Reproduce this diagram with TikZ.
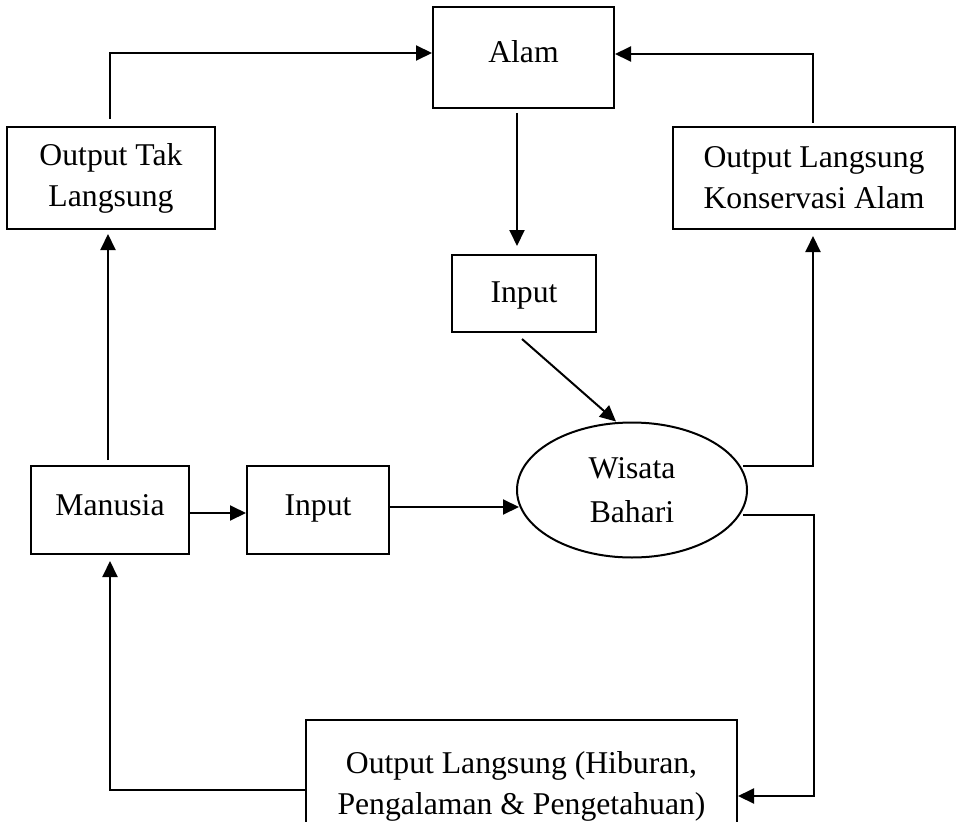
\documentclass[tikz,border=0pt]{standalone}
\usepackage{fontspec}
\setmainfont{Liberation Serif}
\usetikzlibrary{arrows.meta,shapes.geometric}
\begin{document}
\begin{tikzpicture}[x=1pt,y=-1pt,
  box/.style={draw,line width=2pt,inner sep=0pt,align=center,
    font={\fontsize{31.7pt}{41pt}\selectfont}},
  oval/.style={draw,ellipse,line width=2pt,inner sep=0pt,align=center,
    font={\fontsize{31.7pt}{44pt}\selectfont}},
  arr/.style={line width=2pt,-{Triangle[length=16pt,width=15pt]}}]
\useasboundingbox (0,0) rectangle (960,821);
\clip (0,0) rectangle (960,821);
\fill[white] (0,0) rectangle (960,821);

\node[box,minimum width=181pt,minimum height=101pt,text height=22pt,text depth=11pt] (alam) at (523.5,57.5) {Alam};
\node[box,minimum width=208pt,minimum height=102pt] (otl) at (111,178) {Output Tak\\Langsung};
\node[box,minimum width=282pt,minimum height=102pt] (olk) at (814,178) {Output Langsung\\Konservasi Alam};
\node[box,minimum width=144pt,minimum height=77pt,text height=22pt,text depth=5pt] (in1) at (524,293.5) {Input};
\node[box,minimum width=158pt,minimum height=88pt,text height=22pt,text depth=12pt] (man) at (110,510) {Manusia};
\node[box,minimum width=142pt,minimum height=88pt,text height=22pt,text depth=12pt] (in2) at (318,510) {Input};
\node[oval,minimum width=230pt,minimum height=135pt] (wis) at (632,490) {Wisata\\Bahari};
\node[box,minimum width=431pt,minimum height=132pt] (olh) at (521.5,786) {Output Langsung (Hiburan,\\Pengalaman \& Pengetahuan)};

% connectors
\draw[arr] ([xshift=-1pt,yshift=7pt]otl.north) |- ([yshift=4.5pt]alam.west);
\draw[arr] ([xshift=-1pt,yshift=3pt]olk.north) |- ([yshift=3.5pt]alam.east);
\draw[arr] ([xshift=-6.5pt,yshift=-4pt]alam.south) -- ([xshift=-7pt,yshift=8pt]in1.north);
\draw[arr] ([xshift=-2pt,yshift=-6pt]in1.south) -- ([xshift=-16pt]wis.north);
\draw[arr] ([yshift=-3pt]man.east) -- ([yshift=-3pt]in2.west);
\draw[arr] ([yshift=3pt]in2.east) -- ([xshift=3pt,yshift=-17pt]wis.west);
\draw[arr] ([xshift=-2pt,yshift=5pt]man.north) -- ([xshift=-3pt,yshift=-4pt]otl.south);
\draw[arr] ([xshift=-5pt,yshift=24pt]wis.east) -| ([xshift=-1pt,yshift=-6pt]olk.south);
\draw[arr] ([xshift=-5pt,yshift=-25pt]wis.east) -- ++(71,0) |- ([yshift=-10pt]olh.east);
\draw[arr] ([yshift=-4pt]olh.west) -| ([yshift=-6pt]man.south);
\end{tikzpicture}
\end{document}
